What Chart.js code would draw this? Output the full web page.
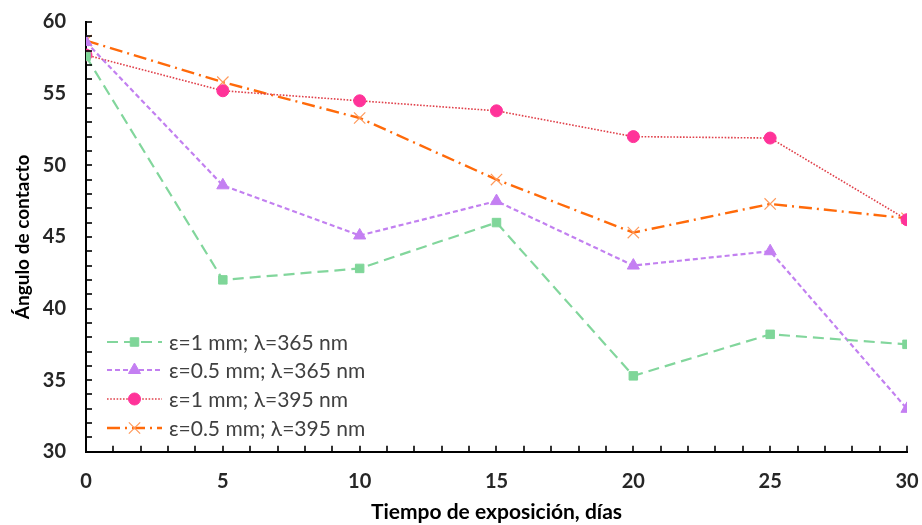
<!DOCTYPE html>
<html>
<head>
<meta charset="utf-8">
<script src="https://cdn.jsdelivr.net/npm/chart.js@4/dist/chart.umd.min.js"></script>
<style>
  body { margin: 0; background: #fff; }
  #wrap { width: 922px; height: 525px; }
</style>
</head>
<body>
<div id="wrap"><canvas id="myChart" width="922" height="525"></canvas></div>
<script>
// data
const dias = [0, 5, 10, 15, 20, 25, 30];
const e1_365 = [57.6, 42.0, 42.8, 46.0, 35.3, 38.2, 37.5];
const e05_365 = [58.6, 48.6, 45.1, 47.5, 43.0, 44.0, 33.0];
const e1_395 = [57.7, 55.2, 54.5, 53.8, 52.0, 51.9, 46.2];
const e05_395 = [58.7, 55.8, 53.3, 49.0, 45.3, 47.3, 46.3];
const nombres = ['ε=1 mm; λ=365 nm', 'ε=0.5 mm; λ=365 nm', 'ε=1 mm; λ=395 nm', 'ε=0.5 mm; λ=395 nm'];

const FONT = 'Lato, "Open Sans", sans-serif';

function pts(ys) {
    return dias.map((d, i) => ({ x: d, y: ys[i] }));
}

// inward ticks every 1 unit + legend inside the plot (bottom-left)
const extrasPlugin = {
    id: 'extras',
    afterDraw(chart) {
        const ctx = chart.ctx;
        const xs = chart.scales.x, ys = chart.scales.y;
        const a = chart.chartArea;
        ctx.save();
        ctx.setLineDash([]);
        ctx.strokeStyle = '#000000';
        ctx.lineWidth = 1.6;
        for (let v = 1; v <= 30; v++) {
            const px = Math.round(xs.getPixelForValue(v));
            ctx.beginPath();
            ctx.moveTo(px, a.bottom);
            ctx.lineTo(px, a.bottom - 6);
            ctx.stroke();
        }
        for (let v = 31; v <= 60; v++) {
            const py = Math.round(ys.getPixelForValue(v));
            ctx.beginPath();
            ctx.moveTo(a.left, py);
            ctx.lineTo(a.left + 6, py);
            ctx.stroke();
        }

        const x0 = a.left + 21, x1 = x0 + 55;
        const rows = [342, 370, 399, 428];
        chart.data.datasets.forEach((ds, i) => {
            const y = rows[i];
            ctx.strokeStyle = ds.borderColor;
            ctx.lineWidth = ds.borderWidth;
            ctx.setLineDash(ds.borderDash || []);
            ctx.beginPath();
            ctx.moveTo(x0, y);
            ctx.lineTo(x1, y);
            ctx.stroke();
            ctx.setLineDash([]);
            ctx.fillStyle = ds.pointBackgroundColor;
            ctx.strokeStyle = ds.pointBorderColor;
            ctx.lineWidth = ds.pointBorderWidth;
            Chart.helpers.drawPoint(ctx, {
                pointStyle: ds.pointStyle,
                radius: ds.pointRadius,
                borderWidth: ds.pointBorderWidth,
                rotation: ds.pointRotation || 0
            }, (x0 + x1) / 2, y);
            ctx.fillStyle = '#404040';
            ctx.font = '21px ' + FONT;
            ctx.textBaseline = 'middle';
            ctx.textAlign = 'left';
            ctx.fillText(ds.label, x1 + 7, y + 1);
        });
        ctx.restore();
    }
};

const data = {
    datasets: [{
        label: nombres[0],
        data: pts(e1_365),
        borderColor: '#82d69c',
        borderWidth: 2.2,
        borderDash: [11, 6],
        pointStyle: 'rect',
        pointRadius: 6,
        pointBackgroundColor: '#7fd699',
        pointBorderColor: '#7fd699',
        pointBorderWidth: 1
    }, {
        label: nombres[1],
        data: pts(e05_365),
        borderColor: '#c280f0',
        borderWidth: 2.2,
        borderDash: [5, 3],
        pointStyle: 'triangle',
        pointRadius: 7,
        pointBackgroundColor: '#c47ff2',
        pointBorderColor: '#c47ff2',
        pointBorderWidth: 1
    }, {
        label: nombres[2],
        data: pts(e1_395),
        borderColor: '#e0404a',
        borderWidth: 1.6,
        borderDash: [1.6, 1.6],
        pointStyle: 'circle',
        pointRadius: 6,
        pointBackgroundColor: '#ff3399',
        pointBorderColor: '#ff3399',
        pointBorderWidth: 1
    }, {
        label: nombres[3],
        data: pts(e05_395),
        borderColor: '#ff6a0a',
        borderWidth: 2.4,
        borderDash: [13, 5, 2, 5],
        pointStyle: 'cross',
        pointRotation: 45,
        pointRadius: 8,
        pointBackgroundColor: '#ff9a5c',
        pointBorderColor: '#ff9a5c',
        pointBorderWidth: 1.2
    }]
};

const config = {
    type: 'line',
    data: data,
    plugins: [extrasPlugin],
    options: {
        responsive: false,
        animation: false,
        layout: { padding: { left: 11, right: 15, top: 22, bottom: 0 } },
        plugins: {
            legend: { display: false },
            tooltip: { enabled: false }
        },
        scales: {
            x: {
                type: 'linear',
                min: 0,
                max: 30,
                afterFit(scale) {
                    // tick padding should not widen the side margins
                    scale.paddingLeft = 0;
                    scale.paddingRight = 12;
                },
                grid: { display: false, drawTicks: false },
                border: { display: true, color: '#000', width: 2 },
                ticks: {
                    stepSize: 5,
                    padding: 18,
                    color: '#262626',
                    font: { family: FONT, size: 20, weight: 'bold' }
                },
                title: {
                    display: true,
                    text: 'Tiempo de exposición, días',
                    color: '#000',
                    padding: { top: -12, bottom: 0 },
                    font: { family: FONT, size: 21, weight: 'bold' }
                }
            },
            y: {
                min: 30,
                max: 60,
                afterFit(scale) {
                    scale.paddingTop = 12;
                    scale.paddingBottom = 0;
                },
                grid: { display: false, drawTicks: false },
                border: { display: true, color: '#000', width: 2 },
                ticks: {
                    stepSize: 5,
                    padding: 20,
                    color: '#262626',
                    font: { family: FONT, size: 20, weight: 'bold' }
                },
                title: {
                    display: true,
                    text: 'Ángulo de contacto',
                    color: '#000',
                    padding: { top: 0, bottom: -11 },
                    font: { family: FONT, size: 19, weight: 'bold' }
                }
            }
        }
    }
};

let myChart = new Chart(document.getElementById('myChart'), config);
</script>
</body>
</html>
